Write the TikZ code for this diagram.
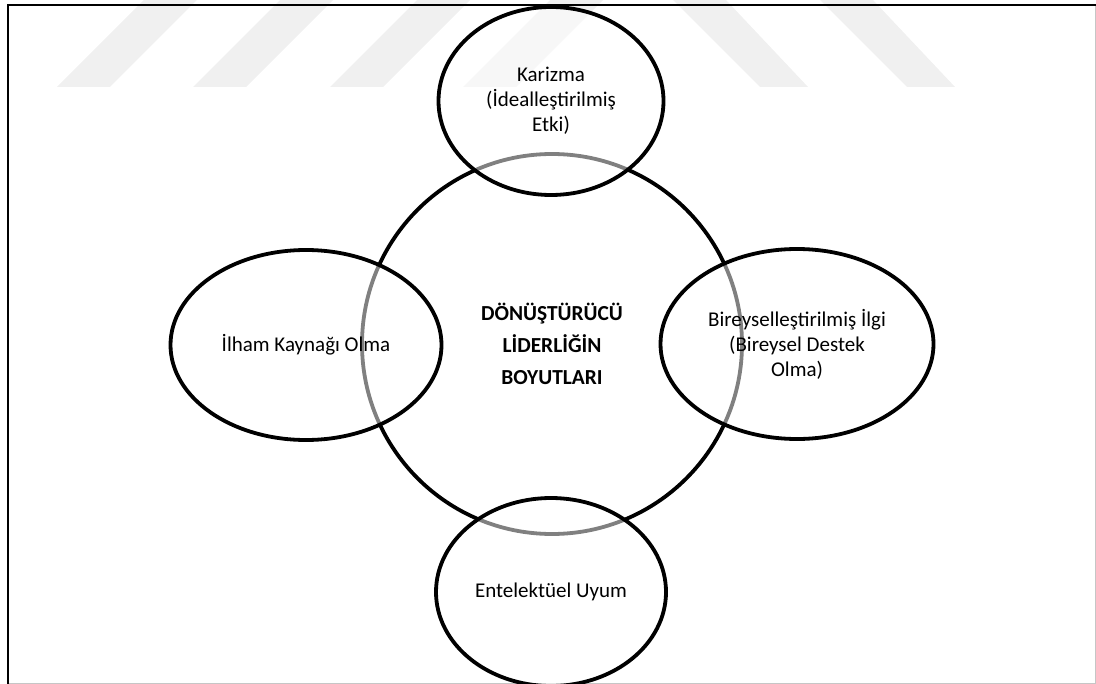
\documentclass[tikz,border=0pt]{standalone}
\usepackage{fontspec}
\setmainfont{Carlito}
\usetikzlibrary{shapes.geometric}

\begin{document}
\begin{tikzpicture}[x=0.5pt, y=-0.5pt,
        wmark/.style={fill=black!6, draw=none},
        core/.style={draw, circle, line width=1.9pt, inner sep=0pt,
                     minimum size=190pt, align=center,
                     font=\fontsize{10.7}{16}\selectfont\bfseries},
        dim/.style={draw, ellipse, line width=1.9pt, fill=white,
                    fill opacity=0.5, text opacity=1, inner sep=0pt,
                    align=center, font=\fontsize{10.5}{12.5}\selectfont}
    ]
    \useasboundingbox (0,0) rectangle (1096,684);

    % watermark stripes
    \foreach \x in {57,193,330,463}
        \fill[wmark] (\x,87) -- ++(53,0) -- ++(87,-87) -- ++(-53,0) -- cycle;
    \foreach \x in {760,907}
        \fill[wmark] (\x,87) -- ++(48,0) -- ++(-82,-87) -- ++(-53,0) -- cycle;

    % frame
    \draw[gray!45, line width=0.5pt] (1095,5) -- (1095,683) -- (8,683);
    \draw[line width=1pt] (8,684) -- (8,5) -- (1096,5);

    \node[core] (core) at (552,344) {DÖNÜŞTÜRÜCÜ\\LİDERLİĞİN\\BOYUTLARI};

    \node[dim, minimum width=112.5pt, minimum height=94pt] (charisma) at (551,101)
        {Karizma\\(İdealleştirilmiş\\Etki)};
    \node[dim, minimum width=135.5pt, minimum height=95pt] (inspire) at (306,345)
        {İlham Kaynağı Olma};
    \node[dim, minimum width=136.5pt, minimum height=95pt] (support) at (797,344)
        {Bireyselleştirilmiş İlgi\\(Bireysel Destek\\Olma)};
    \node[dim, minimum width=115pt, minimum height=94pt] (intellect) at (551,592)
        {Entelektüel Uyum};
\end{tikzpicture}
\end{document}
